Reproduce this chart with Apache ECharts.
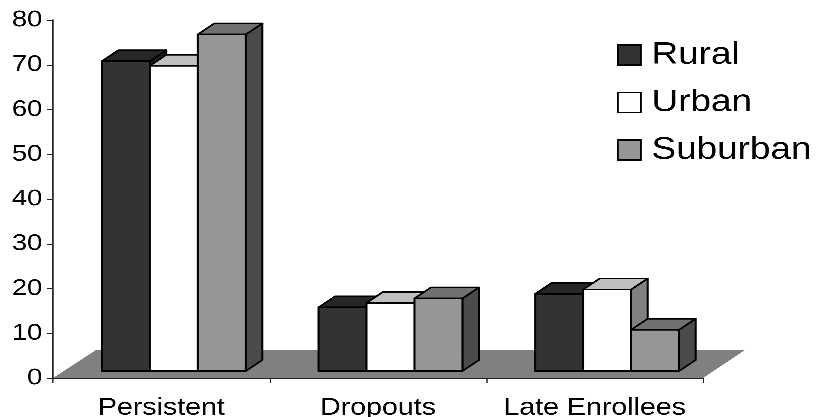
<!DOCTYPE html>
<html><head><meta charset="utf-8">
<style>html,body{margin:0;padding:0;background:#fff;overflow:hidden}
#c{width:687px;height:417px;transform:scaleX(1.18923);transform-origin:0 0}</style>
<script src="https://cdn.jsdelivr.net/npm/echarts@6/dist/echarts.min.js"></script>
</head><body><div id="c"></div>
<script>
var categories = ['Persistent', 'Dropouts', 'Late Enrollees'];
var rural = [70, 15, 18];
var urban = [69, 16, 19];
var suburban = [76, 17, 10];
var yTicks = {min: 0, max: 80, interval: 10};

var W = 687;
var S = 817 / W;
function px(v) { return v / S; }
var BAR = px(48), DX = px(16.5), DY = -11, SHIFT = px(12.5);
var styles = [
  {front: '#333333', top: '#262626', side: '#1c1c1c'},
  {front: '#ffffff', top: '#bfbfbf', side: '#808080'},
  {front: '#969696', top: '#717171', side: '#4b4b4b'}
];
function barItem(idx) {
  return function (params, api) {
    var p = api.coord([api.value(0), api.value(1)]);
    var zero = api.coord([api.value(0), 0]);
    var x0 = p[0] + SHIFT - 1.5 * BAR + idx * BAR, x1 = x0 + BAR;
    var yt = p[1] - 3.5, yb = zero[1] - 7;
    var st = styles[idx];
    var line = {stroke: '#000', lineWidth: 1.7, lineJoin: 'round'};
    function poly(pts, fill) {
      return {type: 'polygon', shape: {points: pts},
        style: Object.assign({fill: fill}, line)};
    }
    return {type: 'group', children: [
      poly([[x1, yb], [x1 + DX, yb + DY], [x1 + DX, yt + DY], [x1, yt]], st.side),
      poly([[x0, yt], [x0 + DX, yt + DY], [x1 + DX, yt + DY], [x1, yt]], st.top),
      poly([[x0, yt], [x1, yt], [x1, yb], [x0, yb]], st.front)
    ]};
  };
}
function floorItem(params, api) {
  var c = params.coordSys;
  var b = c.y + c.height;
  return {type: 'polygon', shape: {points: [
    [c.x, b], [c.x + c.width, b], [c.x + c.width + px(42), b - 28], [c.x + px(43), b - 28]
  ]}, style: {fill: '#808080'}};
}
function toData(arr) { return arr.map(function (v, i) { return [i, v]; }); }
var names = ['Rural', 'Urban', 'Suburban'];
var values = [rural, urban, suburban];
var series = [{type: 'custom', silent: true, renderItem: floorItem, data: [[0, 0]], z: 1,
  encode: {x: 0, y: 1}}];
names.forEach(function (n, i) {
  series.push({name: n, type: 'custom', renderItem: barItem(i), data: toData(values[i]), z: 2 + i,
    encode: {x: 0, y: 1}, itemStyle: {color: styles[i].front}});
});
var chart = echarts.init(document.getElementById('c'), null, {devicePixelRatio: 3});
chart.setOption({
  animation: false,
  backgroundColor: '#fff',
  grid: {left: px(53), right: W - px(703), top: 20, bottom: 39, outerBoundsMode: 'none'},
  legend: {
    orient: 'vertical', left: px(611), top: 34.5, selectedMode: false,
    itemWidth: px(23), itemHeight: 20, itemGap: 16.5,
    icon: 'rect',
    itemStyle: {borderColor: '#000', borderWidth: 1.5},
    textStyle: {fontFamily: 'Liberation Sans', fontSize: 31, color: '#000', padding: [1, 0, 0, 4]},
    data: names
  },
  xAxis: {
    type: 'category', data: categories, boundaryGap: true,
    axisLine: {onZero: false, lineStyle: {color: '#222', width: 1.3}},
    axisTick: {show: true, alignWithLabel: false, length: 5, lineStyle: {color: '#222', width: 1}},
    axisLabel: {fontFamily: 'Liberation Sans', fontSize: 24, color: '#000', margin: 18, interval: 0},
    splitLine: {show: false}
  },
  yAxis: {
    type: 'value', min: yTicks.min, max: yTicks.max, interval: yTicks.interval,
    axisLine: {show: true, lineStyle: {color: '#222', width: 1.3}},
    axisTick: {show: true, length: px(6), lineStyle: {color: '#222', width: 1}},
    axisLabel: {fontFamily: 'Liberation Sans', fontSize: 23, color: '#000', margin: 9, lineHeight: 27, padding: [5, 0, 0, 0]},
    splitLine: {show: false}
  },
  series: series
});
</script></body></html>
